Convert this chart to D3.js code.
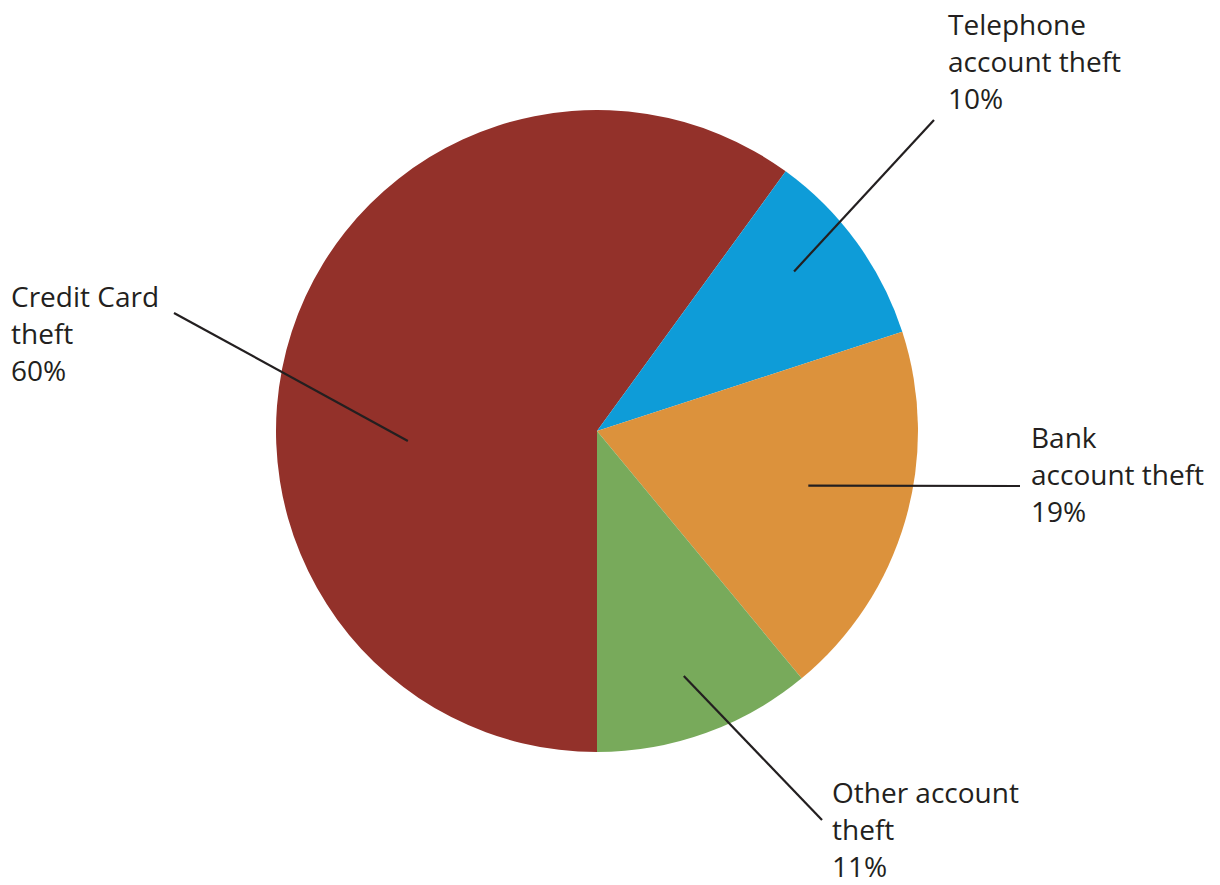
<!DOCTYPE html>
<html lang="en">
	<head>
		<meta charset="utf-8">
		<title>Identity theft pie</title>
		<script src="https://d3js.org/d3.v7.min.js"></script>
		<style type="text/css">
			body { margin: 0; background: #fff; }
			text { font-family: "Open Sans", sans-serif; fill: #231f20; }
		</style>
	</head>
	<body>
<div id="chart"></div>
		<script type="text/javascript">
// data
var categories = ["Credit Card theft", "Telephone account theft", "Bank account theft", "Other account theft"];
var values = [60, 10, 19, 11];
var labelLines = [["Credit Card", "theft", "60%"],
                  ["Telephone", "account theft", "10%"],
                  ["Bank", "account theft", "19%"],
                  ["Other account", "theft", "11%"]];
var colors = ["#93312a", "#0e9cd8", "#dc923c", "#78aa5b"];

//Width and height
var w = 1220;
var h = 885;
var cx = 597, cy = 431, R = 321;

// label layout: text anchor, leader end, leader start (angle offset deg, radius fraction)
var labelPos = [
	{x: 11, y: 307, ex: 174, ey: 313, da: -21, rf: 0.59},
	{x: 948, y: 35, ex: 934, ey: 120, da: -3, rf: 0.79},
	{x: 1031, y: 448, ex: 1020, ey: 486, da: -1.7, rf: 0.68},
	{x: 832, y: 803, ex: 822, ey: 820, da: 0.3, rf: 0.81}
];
var lineH = 37;

var svg = d3.select("div#chart")
			.append("svg")
			.attr("width", w)
			.attr("height", h);

var pie = d3.pie()
			.sort(null)
			.startAngle(Math.PI)
			.endAngle(3 * Math.PI);

var arc = d3.arc()
			.innerRadius(0)
			.outerRadius(R);

var arcs = pie(values);

var g = svg.append("g")
	.attr("transform", "translate(" + cx + "," + cy + ")");

g.selectAll("path")
	.data(arcs)
	.enter()
	.append("path")
	.attr("d", arc)
	.attr("fill", (d, i) => colors[i]);

// leader lines and labels
arcs.forEach(function(d, i) {
	var p = labelPos[i];
	var a = (d.startAngle + d.endAngle) / 2 + p.da * Math.PI / 180;
	var r = R * p.rf;
	svg.append("line")
		.attr("x1", cx + r * Math.sin(a))
		.attr("y1", cy - r * Math.cos(a))
		.attr("x2", p.ex)
		.attr("y2", p.ey)
		.attr("stroke", "#231f20")
		.attr("stroke-width", 2.2);

	var t = svg.append("text")
		.attr("x", p.x)
		.attr("y", p.y)
		.attr("font-size", 28);
	labelLines[i].forEach(function(s, j) {
		t.append("tspan")
			.attr("x", p.x)
			.attr("y", p.y + j * lineH)
			.text(s);
	});
});

		</script>
	</body>
</html>
